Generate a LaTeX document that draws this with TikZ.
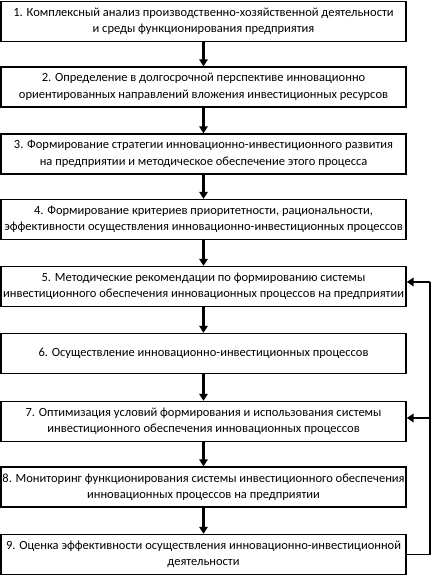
\documentclass[tikz,border=0pt]{standalone}
\usepackage{fontspec}
\setmainfont{Carlito}
\usetikzlibrary{arrows.meta}
\begin{document}
\begin{tikzpicture}[x=1pt,y=-1pt,
  box/.style={draw, line width=1.4pt, minimum width=405pt, minimum height=40pt,
    align=center, inner sep=0pt, font=\fontsize{12.5}{16.5}\selectfont},
  arr/.style={line width=2.2pt, -{Triangle[length=7pt,width=8.5pt]}},
  fb/.style={line width=1.6pt}]
\useasboundingbox (0,0) rectangle (432,578);
\node[box] (b1) at (203.5,21.5) {1. Комплексный анализ производственно-хозяйственной деятельности\\и среды функционирования предприятия};
\node[box] (b2) at (203.5,87) {2. Определение в долгосрочной перспективе инновационно\\ориентированных направлений вложения инвестиционных ресурсов};
\node[box] (b3) at (203.5,154) {3. Формирование стратегии инновационно-инвестиционного развития\\на предприятии и методическое обеспечение этого процесса};
\node[box] (b4) at (203.5,219.5) {4. Формирование критериев приоритетности, рациональности,\\эффективности осуществления инновационно-инвестиционных процессов};
\node[box] (b5) at (203.5,286.5) {5. Методические рекомендации по формированию системы\\инвестиционного обеспечения инновационных процессов на предприятии};
\node[box] (b6) at (203.5,353.5) {6. Осуществление инновационно-инвестиционных процессов};
\node[box] (b7) at (203.5,421.5) {7. Оптимизация условий формирования и использования системы\\инвестиционного обеспечения инновационных процессов};
\node[box] (b8) at (203.5,487) {8. Мониторинг функционирования системы инвестиционного обеспечения\\инновационных процессов на предприятии};
\node[box] (b9) at (203.5,554.5) {9. Оценка эффективности осуществления инновационно-инвестиционной\\деятельности};
\foreach \a/\b in {b1/b2,b2/b3,b3/b4,b4/b5,b5/b6,b6/b7,b7/b8,b8/b9}
  \draw[arr] (\a.south) -- (\b.north);
\coordinate (c9) at (430,554.5);
\coordinate (c5) at (430,282);
\coordinate (c7) at (430,418);
\draw[fb] (b9.east) -- (c9) -- (c5);
\draw[arr] (c5) -- (c5 -| b5.east);
\draw[arr] (c7) -- (c7 -| b7.east);
\end{tikzpicture}
\end{document}
